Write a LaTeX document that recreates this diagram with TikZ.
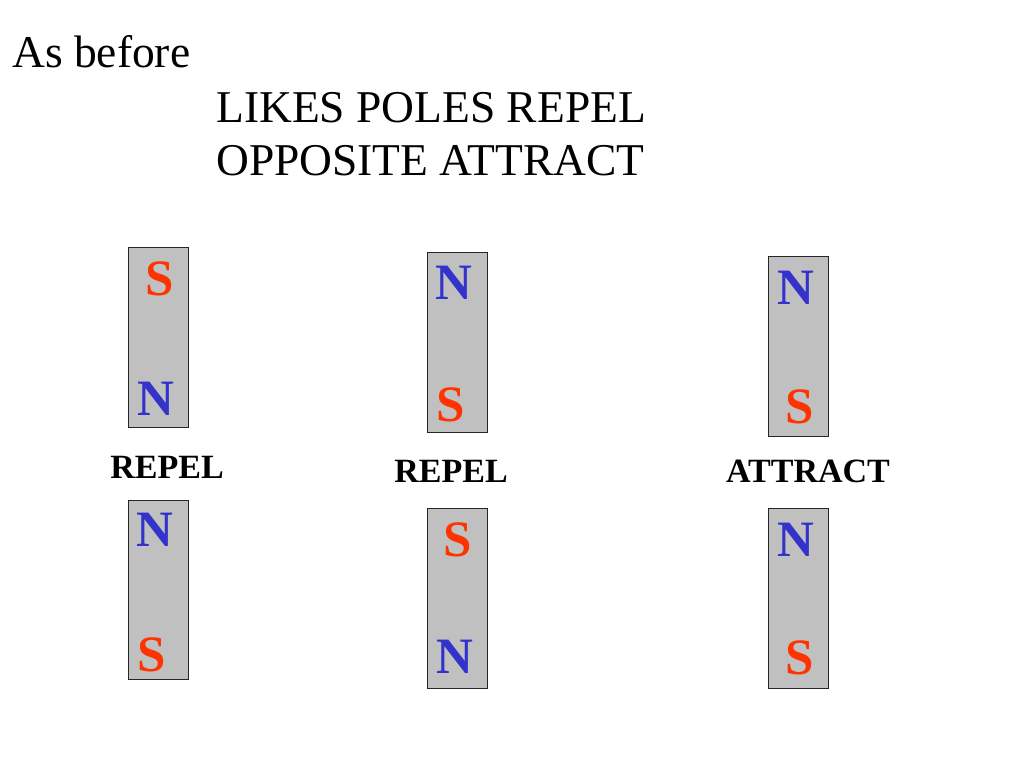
\documentclass[tikz,border=0pt]{standalone}
\usepackage{fontspec}
\setmainfont{Liberation Serif}
\usepackage{tikz}
\definecolor{barfill}{HTML}{C0C0C0}
\definecolor{northblue}{HTML}{3333CC}
\definecolor{southred}{HTML}{FF3300}
\tikzset{
    magnet/.style={draw=black!85, fill=barfill, line width=1pt},
    northpole/.style={text=northblue, font=\fontsize{51}{51}\selectfont\bfseries, inner sep=0pt},
    southpole/.style={text=southred, font=\fontsize{51}{51}\selectfont\bfseries, inner sep=0pt},
    rule/.style={font=\fontsize{34}{34}\selectfont\bfseries, inner sep=0pt},
    heading/.style={font=\fontsize{45.5}{45.5}\selectfont, inner sep=0pt, anchor=base west}
}

\begin{document}
\begin{tikzpicture}[x=1pt, y=-1pt]
    \useasboundingbox[fill=white] (0, 0) rectangle (1024, 768);
    %Titles
    \node[heading] (asbefore) at (12, 67) {As before};
    \node[heading] (likes) at (216, 122) {LIKES POLES REPEL};
    \node[heading] (opposite) at (216, 175) {OPPOSITE ATTRACT};
    %Magnets
    \draw[magnet] (128, 247) rectangle (188, 427);
    \draw[magnet] (128, 500) rectangle (188, 679);
    \draw[magnet] (427, 252) rectangle (487, 432);
    \draw[magnet] (427, 508) rectangle (487, 688);
    \draw[magnet] (768, 256) rectangle (828, 436);
    \draw[magnet] (768, 508) rectangle (828, 688);
    %Poles
    \node[southpole] (s1a) at (160, 279) {S};
    \node[northpole] (n1a) at (156, 399) {N};
    \node[northpole] (n1b) at (155, 530) {N};
    \node[southpole] (s1b) at (152, 655) {S};
    \node[northpole] (n2a) at (454, 283) {N};
    \node[southpole] (s2a) at (451, 405) {S};
    \node[southpole] (s2b) at (458, 540) {S};
    \node[northpole] (n2b) at (455, 657) {N};
    \node[northpole] (n3a) at (796, 288) {N};
    \node[southpole] (s3a) at (800, 407) {S};
    \node[northpole] (n3b) at (796, 540) {N};
    \node[southpole] (s3b) at (800, 658) {S};
    %Labels
    \node[rule] (repela) at (167, 467) {REPEL};
    \node[rule] (repelb) at (451, 471) {REPEL};
    \node[rule] (attract) at (808, 471) {ATTRACT};
\end{tikzpicture}
\end{document}
